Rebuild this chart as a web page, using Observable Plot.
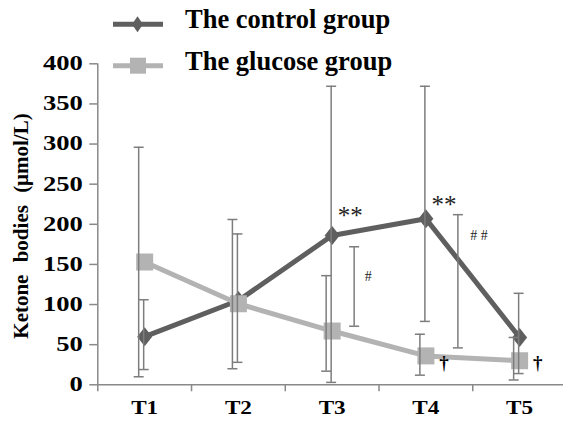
<!DOCTYPE html>
<html><head><meta charset="utf-8">
<script src="https://cdn.jsdelivr.net/npm/d3@7"></script>
<script src="https://cdn.jsdelivr.net/npm/@observablehq/plot@0.6"></script>
<style>
body{margin:0;background:#fff;}
#wrap{position:relative;width:563px;height:428px;overflow:hidden;font-family:"Liberation Serif","Times New Roman",serif;}
#wrap > svg{position:absolute;left:0;top:0;}
#over{pointer-events:none;}
</style></head><body>
<div id="wrap"></div>
<script>
// ---- data ----
const categories = ["T1","T2","T3","T4","T5"];
const seriesNames = ["The control group","The glucose group"];
const controlMean = [60, 105, 186, 207, 59];
const controlLow  = [19, 28, 3, 79, 14];
const controlHigh = [106, 188, 372, 372, 114];
const glucoseMean = [153, 101, 67, 36, 30];
const glucoseLow  = [10, 20, 17, 12, 6];
const glucoseHigh = [296, 206, 136, 63, 59];
const yTicks = [0, 50, 100, 150, 200, 250, 300, 350, 400];
const yLabel = "Ketone bodies (μmol/L)";
// annotations
const starCats = ["T3","T4"];
const starY = [210, 224];
const starText = "**";
const sigCats = ["T3","T4"];
const sigLow = [73, 46];
const sigHigh = [172, 212];
const sigText = ["#", "# #"];
const sigTextY = [135, 186];
const daggerCats = ["T4","T5"];
const daggerY = [27, 27];
const daggerText = "†";

// ---- layout / styles ----
const W = 563, H = 428;
const cControl = "#5f5f5f", cGlucose = "#b3b3b3", cErr = "#7d7d7d", cAxis = "#898989";
const sigDx = [22, 32], sigTextDx = [36, 53];

const xi = c => categories.indexOf(c) + 1;
const control = categories.map((c,i)=>({x:i+1, mean:controlMean[i], lo:controlLow[i], hi:controlHigh[i]}));
const glucose = categories.map((c,i)=>({x:i+1, mean:glucoseMean[i], lo:glucoseLow[i], hi:glucoseHigh[i]}));

const diamond = {draw(ctx){ctx.moveTo(0,-9.5);ctx.lineTo(7.5,0);ctx.lineTo(0,9.5);ctx.lineTo(-7.5,0);ctx.closePath();}};
const square = {draw(ctx){ctx.rect(-8.5,-8.5,17,17);}};
const cap = {draw(ctx){ctx.moveTo(-5,0);ctx.lineTo(5,0);}};

function errMarks(data, dx){
  return [
    Plot.ruleX(data, {x:"x", y1:"lo", y2:"hi", stroke:cErr, strokeWidth:1.5, dx}),
    Plot.dot(data, {x:"x", y:"lo", symbol:cap, fill:"none", stroke:cErr, strokeWidth:1.5, dx}),
    Plot.dot(data, {x:"x", y:"hi", symbol:cap, fill:"none", stroke:cErr, strokeWidth:1.5, dx})
  ];
}

const sigMarks = sigCats.flatMap((c,i)=>{
  const d = [{x:xi(c), lo:sigLow[i], hi:sigHigh[i]}];
  return [
    ...errMarks(d, sigDx[i]),
    Plot.text([{x:xi(c), y:sigTextY[i]}], {x:"x", y:"y", text:()=>sigText[i], dx:sigTextDx[i], fontSize:14, fill:"#222"})
  ];
});

const chart = Plot.plot({
  width: W, height: H,
  marginTop: 63.3, marginBottom: 43.7, marginLeft: 97.3, marginRight: -3,
  x: {type:"linear", domain:[0.5, 5.5]},
  y: {domain:[0, 400]},
  style: {fontFamily:"Liberation Serif, Times New Roman, serif", background:"white", color:"black"},
  marks: [
    Plot.axisY({ticks:yTicks, tickSize:8, tickPadding:7, label:null, fontSize:20, fontWeight:"bold"}),
    Plot.axisX({ticks:[0.5,1.5,2.5,3.5,4.5], tickSize:7, tickFormat:()=>"", label:null}),
    Plot.axisX({ticks:categories.map((c,i)=>i+1), tickSize:0, tickPadding:16, tickFormat:i=>categories[i-1], label:null, fontSize:19, fontWeight:"bold"}),
    Plot.ruleX([0.5], {stroke:cAxis, strokeWidth:1.5}),
    Plot.ruleY([0], {stroke:cAxis, strokeWidth:1.5}),
    Plot.line(control, {x:"x", y:"mean", stroke:cControl, strokeWidth:5}),
    Plot.dot(control, {x:"x", y:"mean", symbol:diamond, fill:cControl, stroke:"none"}),
    Plot.line(glucose, {x:"x", y:"mean", stroke:cGlucose, strokeWidth:5}),
    Plot.dot(glucose, {x:"x", y:"mean", symbol:square, fill:cGlucose, stroke:"none"}),
    ...errMarks(control, -1),
    ...errMarks(glucose, -6),
    ...sigMarks,
    Plot.text(starCats.map((c,i)=>({x:xi(c), y:starY[i]})), {x:"x", y:"y", text:()=>starText, dx:18, fontSize:25, fill:"#222"}),
    Plot.text(daggerCats.map((c,i)=>({x:xi(c), y:daggerY[i]})), {x:"x", y:"y", text:()=>daggerText, dx:18, fontSize:19, fontWeight:"bold", fill:"#000"})
  ]
});
const wrap = document.getElementById("wrap");
wrap.appendChild(chart);

// tick styling
const svg = d3.select(chart);
svg.selectAll('g[aria-label="y-axis tick"], g[aria-label="x-axis tick"]').attr("stroke", cAxis).attr("stroke-width", 1.5);
function stretch(sel, k){
  sel.each(function(){
    const t = this.getAttribute("transform");
    if (t) this.setAttribute("transform", t + ` scale(${k},1)`);
    else {
      const x = +this.getAttribute("x") || 0, y = +this.getAttribute("y") || 0;
      this.setAttribute("x", 0); this.setAttribute("y", 0);
      this.setAttribute("transform", `translate(${x},${y}) scale(${k},1)`);
    }
  });
}
stretch(svg.selectAll('g[aria-label="y-axis tick label"] text'), 1.33);
stretch(svg.selectAll('g[aria-label="x-axis tick label"] text'), 1.22);

// legend + axis title overlay
const over = d3.select(wrap).append("svg").attr("id","over").attr("width",W).attr("height",H);
const legRows = [
  {name:seriesNames[0], y:24.3, base:28, color:cControl, sym:"diamond"},
  {name:seriesNames[1], y:65.7, base:70, color:cGlucose, sym:"square"}
];
legRows.forEach(r=>{
  over.append("line").attr("x1",113).attr("x2",163).attr("y1",r.y).attr("y2",r.y).attr("stroke",r.color).attr("stroke-width",5);
  if (r.sym==="diamond") over.append("path").attr("d",`M137.5,${r.y-8}L143,${r.y}L137.5,${r.y+8}L132,${r.y}Z`).attr("fill",r.color);
  else over.append("rect").attr("x",130).attr("y",r.y-8).attr("width",16).attr("height",16).attr("fill",r.color);
  over.append("text").attr("x",185).attr("y",r.base).attr("font-size",26.5).attr("font-weight","bold")
    .attr("font-family","Liberation Serif, Times New Roman, serif").attr("fill","#000").text(r.name);
});
over.append("text").attr("transform","translate(28,226) rotate(-90)").attr("text-anchor","middle")
  .attr("font-size",21).attr("font-weight","bold").attr("word-spacing","7px")
  .attr("font-family","Liberation Serif, Times New Roman, serif").style("fill","#000").text(yLabel);
</script>
</body></html>
